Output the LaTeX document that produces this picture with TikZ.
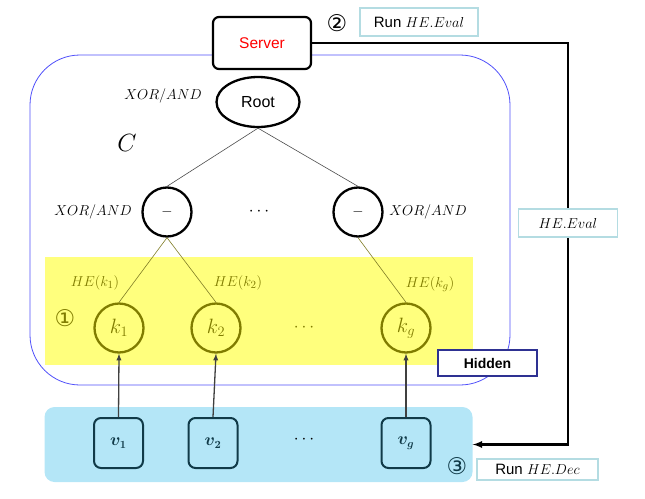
\documentclass[tikz,border=0pt]{standalone}
\usepackage{fontspec}
\setsansfont{Liberation Sans}
\newfontfamily\circfont{DejaVu Sans}
\usepackage{bm}
\usetikzlibrary{shapes.geometric}
\definecolor{cblue}{RGB}{80,80,250}
\definecolor{hiyellow}{RGB}{255,255,125}
\definecolor{keyolive}{RGB}{128,124,0}
\definecolor{userblue}{RGB}{180,230,247}
\definecolor{userdark}{RGB}{16,58,72}
\definecolor{tagteal}{RGB}{180,220,226}
\definecolor{hidnavy}{RGB}{46,49,146}
\begin{document}
\begin{tikzpicture}[x=1pt,y=-1pt,>=latex,
	gate/.style={circle,draw,line width=2.3pt,minimum size=49pt,inner sep=0pt,fill=white,font=\fontsize{15}{17}\selectfont},
	key/.style={circle,draw=keyolive,line width=2.3pt,minimum size=49pt,inner sep=0pt,text=keyolive,font=\fontsize{21}{23}\selectfont},
	user/.style={draw=userdark,line width=2pt,rounded corners=7pt,minimum width=49pt,minimum height=50pt,inner sep=0pt,text=userdark,font=\fontsize{16}{18}\selectfont},
	tag/.style={draw=tagteal,line width=1.5pt,fill=white,inner sep=0pt,font=\sffamily\fontsize{15}{17}\selectfont},
	op/.style={font=\fontsize{14}{16}\selectfont},
	num/.style={font=\circfont\fontsize{23}{25}\selectfont},
	edge/.style={gray!60!black,line width=0.6pt}]
	\useasboundingbox (0,0) rectangle (645,498);
	% circuit C and hidden part
	\draw[cblue,line width=0.8pt,rounded corners=50pt] (30,55) rectangle (510,385);
	\fill[hiyellow] (45,257) rectangle (473,365);
	\node[fill=userblue,rounded corners=10pt,minimum width=428pt,minimum height=75pt,inner sep=0pt] (users) at (258.5,444.5) {};
	% server
	\node[draw,line width=2.2pt,rounded corners=6pt,fill=white,minimum width=98pt,minimum height=52pt,text=red,font=\sffamily\fontsize{15.5}{17}\selectfont] (server) at (262,43) {Server};
	\node[num] (two) at (337,23) {②};
	\node[tag,minimum width=118pt,minimum height=28pt] (runeval) at (419,22) {Run $HE.Eval$};
	% tree
	\node[ellipse,draw,line width=2.3pt,minimum width=83pt,minimum height=50pt,inner sep=0pt,font=\sffamily\fontsize{16}{18}\selectfont] (root) at (258,102) {Root};
	\node[op] (oproot) at (163,96) {$XOR/AND$};
	\node[font=\fontsize{24}{26}\selectfont] (circ) at (127,143) {$C$};
	\node[gate] (g1) at (167,212) {$-$};
	\node[gate] (g2) at (358,212) {$-$};
	\node[op] (op1) at (93,212) {$XOR/AND$};
	\node[op] (op2) at (428,212) {$XOR/AND$};
	\node[font=\fontsize{16}{18}\selectfont] (gdots) at (259,212) {$\cdots$};
	\draw[edge] (root.south) -- (g1.north);
	\draw[edge] (root.south) -- (g2.north);
	% keys
	\node[key] (k1) at (119,328) {$k_1$};
	\node[key] (k2) at (216,328) {$k_2$};
	\node[key] (kg) at (406,328) {$k_g$};
	\node[font=\fontsize{16}{18}\selectfont,text=keyolive] (kdots) at (304,328) {$\cdots$};
	\node[op,text=keyolive,font=\fontsize{15}{17}\selectfont] (he1) at (95,283) {$HE(k_1)$};
	\node[op,text=keyolive,font=\fontsize{15}{17}\selectfont] (he2) at (238,283) {$HE(k_2)$};
	\node[op,text=keyolive,font=\fontsize{15}{17}\selectfont] (heg) at (430,284) {$HE(k_g)$};
	\node[num,text=keyolive] (one) at (65,318) {①};
	\draw[edge,keyolive!70!gray] (g1.south) -- (k1.north);
	\draw[edge,keyolive!70!gray] (g1.south) -- (k2.north);
	\draw[edge,keyolive!70!gray] (g2.south) -- (kg.north);
	\node[draw=hidnavy,line width=2pt,fill=white,minimum width=99pt,minimum height=26pt,inner sep=0pt,font=\sffamily\bfseries\fontsize{14}{16}\selectfont] (hidden) at (487.5,363) {Hidden};
	% users
	\node[user] (v1) at (118.5,443) {$\bm{v}_{\bm{1}}$};
	\node[user] (v2) at (213,443) {$\bm{v}_{\bm{2}}$};
	\node[user] (vg) at (406,443) {$\bm{v}_{\bm{g}}$};
	\node[font=\fontsize{16}{18}\selectfont] (vdots) at (304,440) {$\cdots$};
	\foreach \u/\k in {v1/k1,v2/k2,vg/kg}
	\draw[->,gray!50!black,line width=1.3pt] (\u.north) -- (\k.south);
	% evaluation path
	\coordinate (turn) at (568,43);
	\draw[->,line width=2.2pt] (server.east) -- (turn) |- (users.east);
	\node[tag,minimum width=99pt,minimum height=28pt,font=\fontsize{15}{17}\selectfont] (evaltag) at (568,223) {$HE.Eval$};
	\node[num,text=userdark] (three) at (457,466) {③};
	\node[tag,minimum width=121pt,minimum height=21pt] (rundec) at (537.5,469.5) {Run $HE.Dec$};
\end{tikzpicture}
\end{document}
